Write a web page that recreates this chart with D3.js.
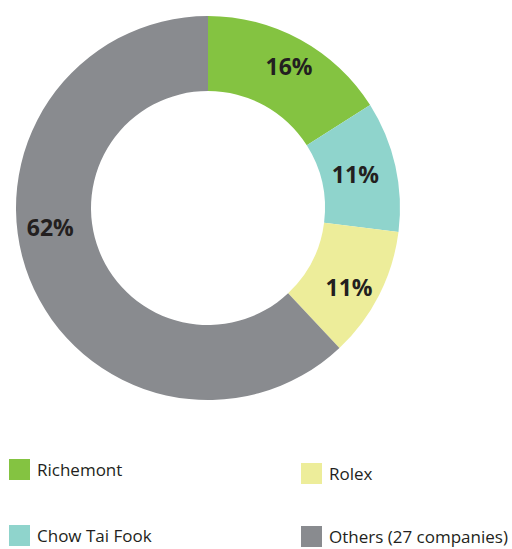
<!DOCTYPE html>
<html>
<head>
<meta charset="utf-8">
<script src="https://cdn.jsdelivr.net/npm/d3@7"></script>
<style>
	body { margin: 0; background: #fff; }
	svg { display: block; font-family: "Open Sans", sans-serif; }
</style>
</head>
<body>
<svg id="chart" width="512" height="549"></svg>
<script>
// data
const companies = ['Richemont', 'Chow Tai Fook', 'Rolex', 'Others (27 companies)'];
const shares = [16, 11, 11, 62];
const colours = ['#84c341', '#8fd4cc', '#eded9a', '#898b8f'];

// legend order, column by column (left column then right column)
const legendOrder = ['Richemont', 'Chow Tai Fook', 'Rolex', 'Others (27 companies)'];

const svg = d3.select('#chart');
const cx = 208, cy = 208;
const outerR = 192, innerR = 117;

const colour = d3.scaleOrdinal().domain(companies).range(colours);

const pie = d3.pie().sort(null).value(d => d.value);
const arcs = pie(companies.map((c, i) => ({ name: c, value: shares[i] })));

const arc = d3.arc().innerRadius(innerR).outerRadius(outerR);
// labels sit a bit outside the ring middle
const labelR = [163, 151, 162, 159];
// the big grey label is pulled round towards 9 o'clock in the original
const labelTurn = [1, 0, 2.5, 14.4];

const g = svg.append('g').attr('transform', `translate(${cx},${cy})`);

g.selectAll('path')
	.data(arcs)
	.join('path')
	.attr('d', arc)
	.attr('fill', d => colour(d.data.name));

g.selectAll('text')
	.data(arcs)
	.join('text')
	.attr('transform', (d, i) => {
		const a = (d.startAngle + d.endAngle) / 2 + labelTurn[i] * Math.PI / 180;
		return `translate(${labelR[i] * Math.sin(a)},${-labelR[i] * Math.cos(a)})`;
	})
	.attr('text-anchor', 'middle')
	.attr('dy', '0.36em')
	.style('font-size', '23px')
	.style('font-weight', 700)
	.style('fill', '#231f20')
	.text(d => d.data.value + '%');

// legend: 2 columns, the right one sits a touch lower
const legend = svg.append('g');
const colX = [9, 301];
const rowY = [[459, 525], [463, 526]];

legendOrder.forEach((name, i) => {
	const col = Math.floor(i / 2), row = i % 2;
	const item = legend.append('g')
		.attr('transform', `translate(${colX[col]},${rowY[col][row]})`);
	item.append('rect')
		.attr('width', 21)
		.attr('height', 21)
		.attr('fill', colour(name));
	item.append('text')
		.attr('x', 28)
		.attr('y', 17)
		.style('font-size', '17px')
		.style('fill', '#231f20')
		.text(name);
});
</script>
</body>
</html>
